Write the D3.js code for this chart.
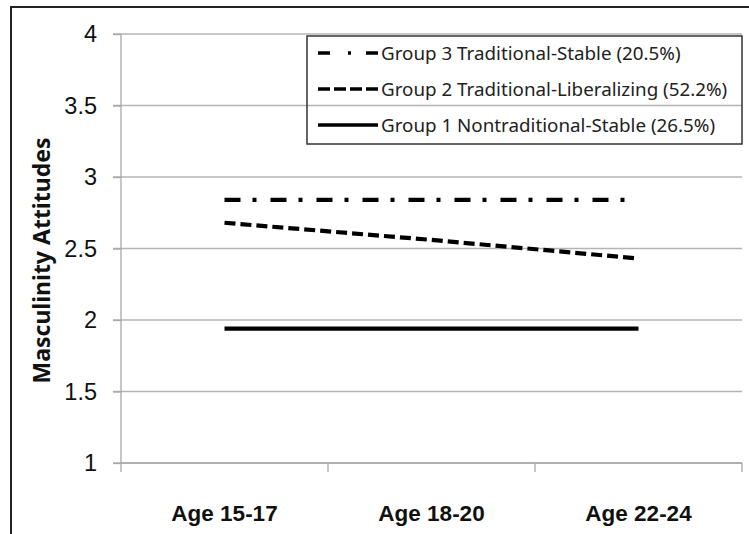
<!DOCTYPE html>
<html>
<head>
<meta charset="utf-8">
<script src="https://cdn.jsdelivr.net/npm/d3@7"></script>
<style>
	body { margin: 0; background: #fff; }
	svg { display: block; font-family: 'Noto Sans', sans-serif; }
	.grid line { stroke: #b4b4b4; stroke-width: 1.3; }
	.axis path, .axis line { stroke: #a8a8a8; stroke-width: 1.3; }
	.axis text { fill: #111; }
</style>
</head>
<body>
<div id="chart"></div>
<script>
	'use strict';
	var ageGroups = ['Age 15-17', 'Age 18-20', 'Age 22-24'];
	var yTicks = [1, 1.5, 2, 2.5, 3, 3.5, 4];
	var groupNames = [
		'Group 3 Traditional-Stable (20.5%)',
		'Group 2 Traditional-Liberalizing (52.2%)',
		'Group 1 Nontraditional-Stable (26.5%)'
	];
	var group3 = [2.84, 2.84, 2.84];
	var group2 = [2.68, 2.56, 2.43];
	var group1 = [1.94, 1.94, 1.94];
	var dashes = ['16,12,4,14', '11,5', null];
	var legendDashes = ['12,18,3,15', '12,4', null];

	var width = 749, height = 534;
	var margin = {top: 34, right: 7, bottom: 71, left: 121};
	var plotW = width - margin.left - margin.right,
		plotH = height - margin.top - margin.bottom;

	var svg = d3.select('#chart').append('svg')
		.attr('width', width)
		.attr('height', height);

	// outer frame (only left and top visible)
	svg.append('rect')
		.attr('x', 11).attr('y', 7)
		.attr('width', 760).attr('height', 560)
		.attr('fill', 'none')
		.attr('stroke', '#222')
		.attr('stroke-width', 2);

	var g = svg.append('g')
		.attr('transform', 'translate(' + margin.left + ',' + margin.top + ')');

	var x = d3.scaleBand().domain(ageGroups).range([0, plotW]);
	var y = d3.scaleLinear().domain([1, 4]).range([plotH, 0]);

	// horizontal gridlines
	g.append('g').attr('class', 'grid')
		.selectAll('line')
		.data(yTicks)
		.enter().append('line')
		.attr('x1', -8).attr('x2', plotW)
		.attr('y1', function (d) { return y(d); })
		.attr('y2', function (d) { return y(d); });

	// y-axis
	var yAxis = g.append('g').attr('class', 'axis')
		.call(d3.axisLeft(y).tickValues(yTicks).tickSize(8).tickPadding(16)
			.tickFormat(function (d) { return String(d); }));
	yAxis.select('.domain').attr('d', 'M0,0V' + plotH);
	yAxis.selectAll('text').style('font-size', '23.5px');

	// x-axis
	var xAxis = g.append('g').attr('class', 'axis')
		.attr('transform', 'translate(0,' + plotH + ')')
		.call(d3.axisBottom(x).tickSize(0).tickPadding(42));
	xAxis.select('.domain').remove();
	xAxis.selectAll('text').style('font-size', '22.5px').style('font-weight', 'bold');
	var bounds = [0].concat(ageGroups.map(function (d) { return x(d) + x.bandwidth(); }));
	xAxis.selectAll('.band-tick')
		.data(bounds)
		.enter().append('line')
		.attr('class', 'band-tick')
		.attr('x1', function (d) { return d; })
		.attr('x2', function (d) { return d; })
		.attr('y1', 0).attr('y2', 9);
	xAxis.append('line')
		.attr('x1', 0).attr('x2', plotW)
		.attr('y1', 0).attr('y2', 0);

	// y-axis title
	svg.append('text')
		.attr('transform', 'translate(50,' + (margin.top + plotH / 2 + 12) + ') rotate(-90)')
		.attr('text-anchor', 'middle')
		.style('font-size', '23px')
		.style('font-weight', 'bold')
		.attr('fill', '#111')
		.text('Masculinity Attitudes');

	// lines
	var series = [group3, group2, group1];
	var line = d3.line()
		.x(function (d, i) { return x(ageGroups[i]) + x.bandwidth() / 2; })
		.y(function (d) { return y(d); });

	g.selectAll('.series')
		.data(series)
		.enter().append('path')
		.attr('class', 'series')
		.attr('d', line)
		.attr('fill', 'none')
		.attr('stroke', '#000')
		.attr('stroke-width', 4.2)
		.attr('stroke-dasharray', function (d, i) { return dashes[i]; });

	// legend
	var legend = svg.append('g').attr('transform', 'translate(307,36)');
	legend.append('rect')
		.attr('width', 435).attr('height', 108)
		.attr('fill', 'none')
		.attr('stroke', '#333')
		.attr('stroke-width', 1.5);
	var rows = legend.selectAll('.row')
		.data(groupNames)
		.enter().append('g')
		.attr('transform', function (d, i) { return 'translate(0,' + (17 + i * 36) + ')'; });
	rows.append('line')
		.attr('x1', 11).attr('x2', 71)
		.attr('stroke', '#000')
		.attr('stroke-width', 3.5)
		.attr('stroke-dasharray', function (d, i) { return legendDashes[i]; });
	rows.append('text')
		.attr('x', 74)
		.attr('dy', '0.35em')
		.style('font-size', '18.8px')
		.attr('fill', '#222')
		.text(function (d) { return d; });
</script>
</body>
</html>
